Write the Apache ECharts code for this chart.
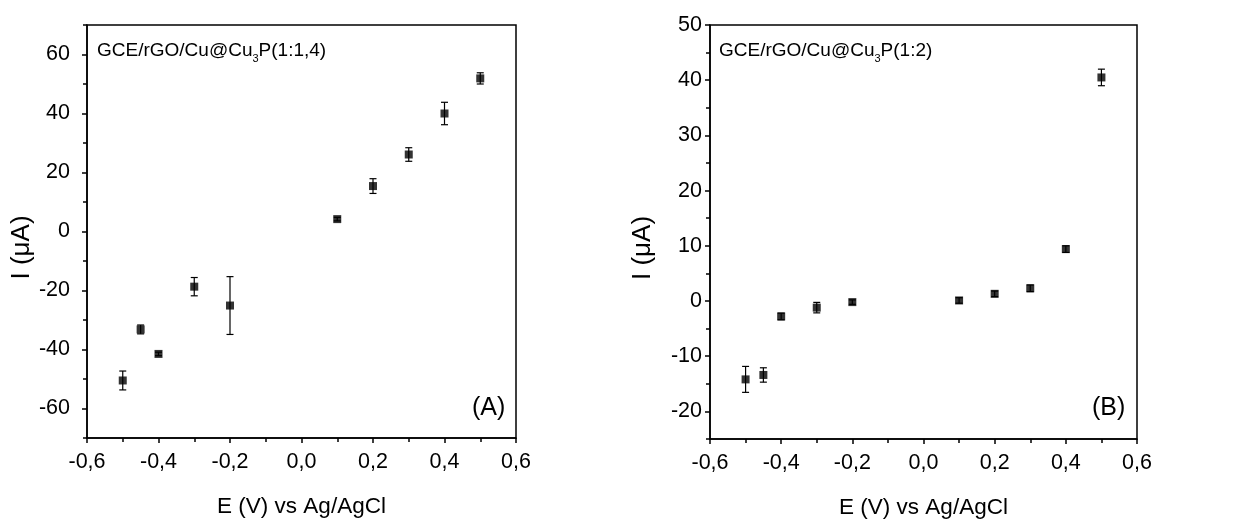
<!DOCTYPE html>
<html>
<head>
<meta charset="utf-8">
<script src="https://cdn.jsdelivr.net/npm/echarts@6/dist/echarts.min.js"></script>
<style>
  html, body { margin: 0; padding: 0; background: #fff; }
  #chart { width: 1254px; height: 520px; }
</style>
</head>
<body>
<div id="chart"></div>
<script>
// potentials (V vs Ag/AgCl), same for both panels
const potentials = [-0.5, -0.45, -0.4, -0.3, -0.2, 0.1, 0.2, 0.3, 0.4, 0.5];

// panel A: GCE/rGO/Cu@Cu3P(1:1,4)
const currentA = [-50.5, -33.2, -41.5, -18.7, -25.1, 4.2, 15.4, 26.1, 40.0, 51.9];
const errorA = [3.2, 1.5, 0.6, 3.1, 9.8, 0.6, 2.5, 2.3, 3.8, 1.9];

// panel B: GCE/rGO/Cu@Cu3P(1:2)
const currentB = [-14.2, -13.4, -2.8, -1.2, -0.2, 0.1, 1.3, 2.3, 9.4, 40.5];
const errorB = [2.35, 1.3, 0.6, 0.95, 0.4, 0.5, 0.5, 0.6, 0.6, 1.5];

// y tick values
const ticksA = [-60, -40, -20, 0, 20, 40, 60];
const minorA = [-70, -50, -30, -10, 10, 30, 50, 70];
const ticksB = [-20, -10, 0, 10, 20, 30, 40, 50];
const minorB = [-25, -15, -5, 5, 15, 25, 35, 45];

const FONT = '"Liberation Sans", Arial, sans-serif';
const BLACK = '#000';

const chart = echarts.init(document.getElementById('chart'));

function points(ys) {
  return potentials.map((x, i) => [x, ys[i]]);
}
function errPoints(ys, es) {
  return potentials.map((x, i) => [x, ys[i], es[i]]);
}

function xAxis(gridIndex) {
  return {
    type: 'value',
    gridIndex,
    min: -0.6,
    max: 0.6,
    interval: 0.2,
    name: 'E (V) vs Ag/AgCl',
    nameLocation: 'middle',
    nameGap: 57,
    nameTextStyle: { fontFamily: FONT, fontSize: 22.5, color: BLACK },
    axisLine: { onZero: false, lineStyle: { color: BLACK, width: 1.5 } },
    axisTick: { inside: false, length: 5, lineStyle: { color: BLACK, width: 1.5 } },
    minorTick: { show: true, splitNumber: 2, length: 4, lineStyle: { color: BLACK, width: 1.5 } },
    splitLine: { show: false },
    axisLabel: {
      fontFamily: FONT, fontSize: 21.5, color: BLACK, margin: 13,
      formatter: v => v.toFixed(1).replace('.', ',')
    }
  };
}

function yAxis(gridIndex, min, max, ticks, margin, gap) {
  return {
    type: 'value',
    gridIndex,
    position: 'left',
    min, max,
    name: 'I (μA)',
    nameLocation: 'middle',
    nameRotate: 90,
    nameGap: gap,
    nameTextStyle: { fontFamily: FONT, fontSize: 26, color: BLACK, padding: [0, 32, 0, 0] },
    axisLine: { onZero: false, lineStyle: { color: BLACK, width: 1.5 } },
    axisTick: { inside: false, length: 5, customValues: ticks, lineStyle: { color: BLACK, width: 1.5 } },
    splitLine: { show: false },
    axisLabel: {
      fontFamily: FONT, fontSize: 21.5, color: BLACK, margin,
      customValues: ticks,
      formatter: v => String(v)
    }
  };
}

// second axis on the same side, only for minor ticks
function minorAxis(gridIndex, min, max, minors) {
  return {
    type: 'value',
    gridIndex,
    position: 'left',
    min, max,
    axisLine: { show: false, onZero: false },
    axisTick: { inside: false, length: 4, customValues: minors, lineStyle: { color: BLACK, width: 1.5 } },
    axisLabel: { show: false },
    splitLine: { show: false }
  };
}

function errorSeries(idx, data) {
  return {
    type: 'custom',
    xAxisIndex: idx,
    yAxisIndex: idx,
    data,
    z: 3,
    renderItem: (params, api) => {
      const x = api.value(0), y = api.value(1), e = api.value(2);
      const top = api.coord([x, y + e]);
      const bot = api.coord([x, y - e]);
      const cap = 3.5;
      const style = { stroke: BLACK, lineWidth: 1.2, fill: null };
      return {
        type: 'group',
        children: [
          { type: 'line', shape: { x1: top[0], y1: top[1], x2: bot[0], y2: bot[1] }, style },
          { type: 'line', shape: { x1: top[0] - cap, y1: top[1], x2: top[0] + cap, y2: top[1] }, style },
          { type: 'line', shape: { x1: bot[0] - cap, y1: bot[1], x2: bot[0] + cap, y2: bot[1] }, style }
        ]
      };
    }
  };
}

function pointSeries(idx, data) {
  return {
    type: 'scatter',
    xAxisIndex: idx,
    yAxisIndex: idx,
    data,
    symbol: 'rect',
    symbolSize: 8,
    itemStyle: { color: BLACK },
    z: 4
  };
}

function label(x, y, ratio) {
  return {
    type: 'text',
    left: x,
    top: y,
    style: {
      text: '{a|GCE/rGO/Cu@Cu}{s|3}{a|P(' + ratio + ')}',
      rich: {
        a: { fontFamily: FONT, fontSize: 19, fill: BLACK, verticalAlign: 'bottom' },
        s: { fontFamily: FONT, fontSize: 11, fill: BLACK, verticalAlign: 'bottom', padding: [0, 0, -4, 0] }
      }
    }
  };
}

function panelTag(x, y, text) {
  return {
    type: 'text',
    left: x,
    top: y,
    style: { text, fontFamily: FONT, fontSize: 25, fill: BLACK }
  };
}

const gridBase = { show: true, borderColor: BLACK, borderWidth: 1.5, outerBoundsMode: 'none', containLabel: false };

chart.setOption({
  animation: false,
  grid: [
    Object.assign({ left: 87, top: 25, width: 429, height: 413 }, gridBase),
    Object.assign({ left: 710, top: 25, width: 427, height: 414 }, gridBase)
  ],
  xAxis: [xAxis(0), xAxis(1)],
  yAxis: [
    yAxis(0, -70, 70, ticksA, 17, 46),
    yAxis(1, -25, 50, ticksB, 8, 54),
    minorAxis(0, -70, 70, minorA),
    minorAxis(1, -25, 50, minorB)
  ],
  series: [
    errorSeries(0, errPoints(currentA, errorA)),
    pointSeries(0, points(currentA)),
    errorSeries(1, errPoints(currentB, errorB)),
    pointSeries(1, points(currentB))
  ],
  graphic: [
    label(97, 41, '1:1,4'),
    label(719, 41, '1:2'),
    panelTag(472, 396, '(A)'),
    panelTag(1092, 396, '(B)')
  ]
});
</script>
</body>
</html>
